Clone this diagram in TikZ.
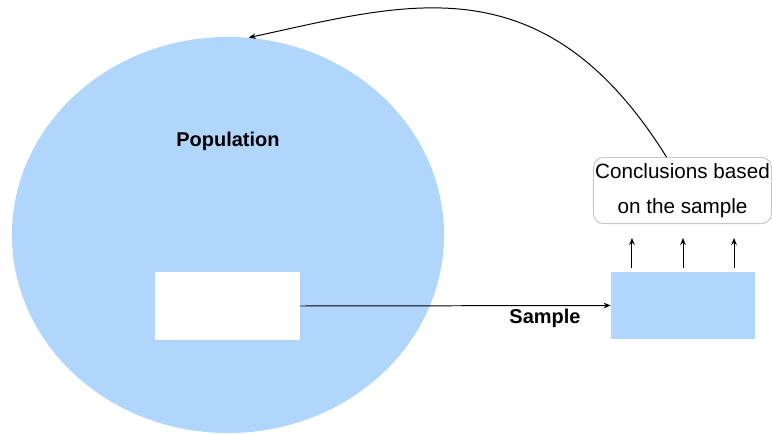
\documentclass[tikz,border=0pt]{standalone}
\usepackage{fontspec}
\setmainfont{Liberation Sans}
\usepackage{tikz}
\usetikzlibrary{shapes.geometric,arrows.meta}
\definecolor{popblue}{RGB}{177,214,251}
\definecolor{boxgray}{RGB}{200,200,200}
\tikzset{
  conn/.style={line width=0.7pt, -{Stealth[length=5pt,width=4pt]}},
  boldlabel/.style={font=\fontsize{14.2}{17}\selectfont\bfseries, inner sep=0pt}
}

\begin{document}
\begin{tikzpicture}[x=0.025cm, y=-0.025cm]

\useasboundingbox (0,0) rectangle (772,434);

\node[ellipse, fill=popblue, inner sep=0pt, minimum width=10.8cm, minimum height=9.9cm] (population) at (228,235) {};
\node[boldlabel] (poplabel) at (228,141) {Population};
\node[fill=white, inner sep=0pt, minimum width=3.625cm, minimum height=1.7cm] (frame) at (227.5,306) {};

\node[fill=popblue, inner sep=0pt, minimum width=3.6cm, minimum height=1.675cm] (samplebox) at (683,305.5) {};
\node[boldlabel] (samplelabel) at (545,318) {Sample};

\node[draw=boxgray, line width=0.7pt, rounded corners=0.25cm, align=center,
      inner xsep=1pt, minimum width=4.45cm, minimum height=1.65cm,
      font=\fontsize{14.7}{24.5}\selectfont] (conclusions) at (682.5,190.5) {Conclusions based\\on the sample};

\draw[conn] (frame.east) -- (samplebox.west);

\foreach \dx in {-1.275,0,1.275}
  \draw[conn, shorten <=0.1cm, shorten >=0.35cm] ([xshift=\dx cm]samplebox.north) -- ([xshift=\dx cm]samplebox.north |- conclusions.south);

\draw[conn] ([xshift=-0.4cm]conclusions.north) .. controls (543,-41) and (405,4) .. (population.84);

\end{tikzpicture}
\end{document}
